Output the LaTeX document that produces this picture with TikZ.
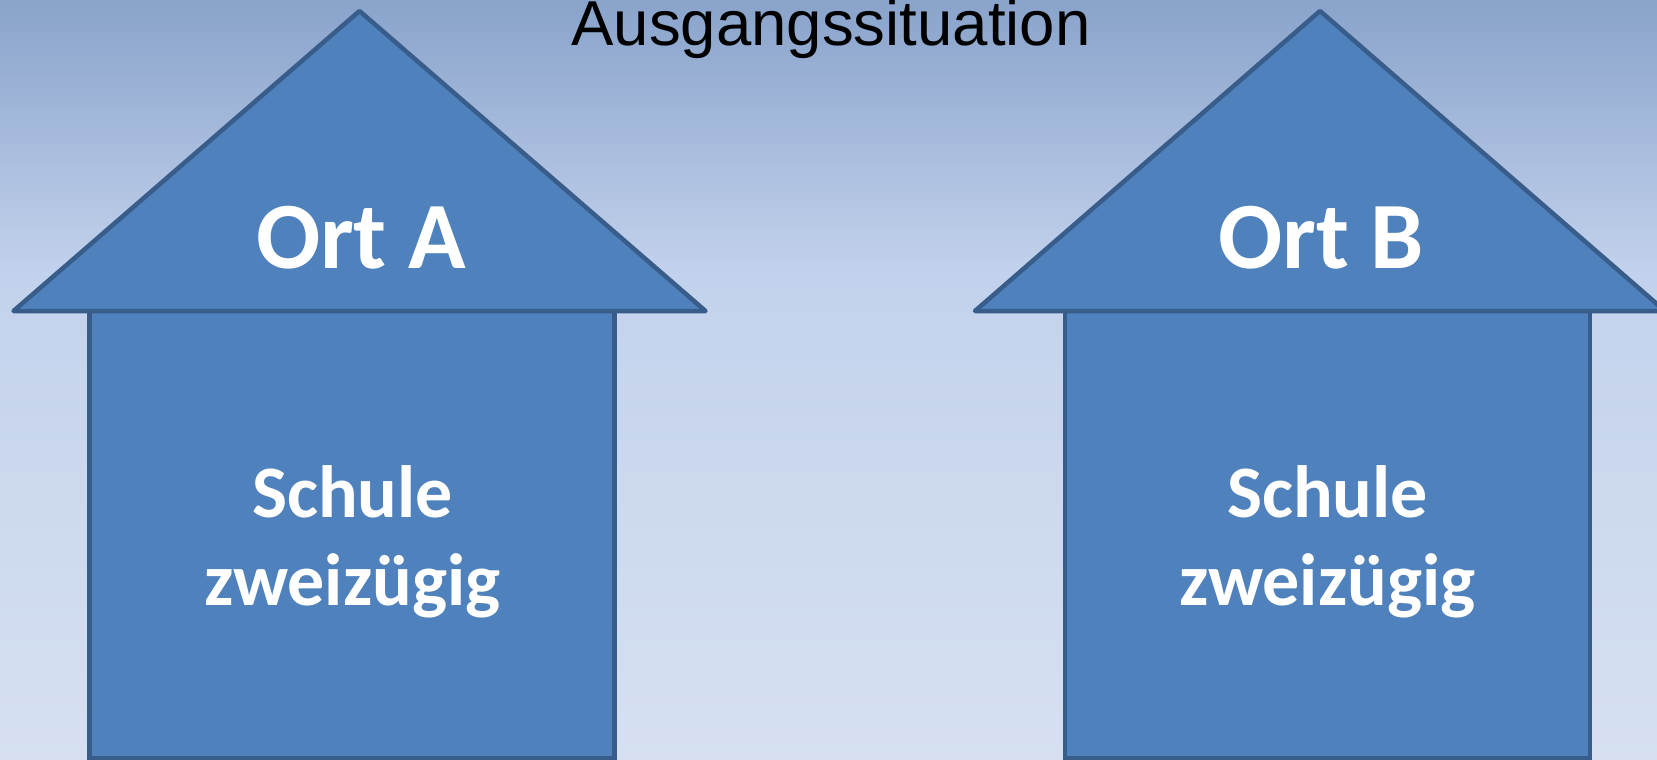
\documentclass[tikz,border=0pt]{standalone}
\usepackage{fontspec}
\setmainfont{Liberation Sans}
\newfontfamily\housefont{Carlito}
\usetikzlibrary{calc}
\definecolor{house_blue}{RGB}{79,129,189}
\definecolor{house_edge}{RGB}{56,93,138}
\definecolor{sky_top}{RGB}{137,163,203}
\definecolor{sky_mid}{RGB}{195,210,236}
\definecolor{sky_bottom}{RGB}{214,224,241}
\pgfdeclareverticalshading{sky}{100bp}{color(0bp)=(sky_bottom); color(25bp)=(sky_bottom);
  color(57bp)=(sky_mid); color(75bp)=(sky_top); color(100bp)=(sky_top)}
\tikzstyle{roof}=[fill=house_blue,draw=house_edge,line width=4.5pt,line join=round,line cap=round]
\tikzstyle{wall}=[fill=house_blue,draw=house_edge,line width=4.5pt]
\tikzstyle{place}=[text=white,font=\housefont\bfseries\fontsize{95}{100}\selectfont,
  inner sep=0pt,anchor=base]
\tikzstyle{school}=[text=white,font=\housefont\bfseries\fontsize{74}{88}\selectfont,
  inner sep=0pt,anchor=base]
\tikzstyle{title}=[text=black,font=\fontsize{63.5}{70}\selectfont,inner sep=0pt,anchor=base]
\tikzstyle{none}=[]

\begin{document}
\begin{tikzpicture}[x=1pt, y=-1pt]
		\shade [shading=sky] (0,0) rectangle (1657,760);
		\useasboundingbox (0,0) rectangle (1657,760);
		\coordinate (0) at (359.5, 11);
		\coordinate (1) at (13.5, 311);
		\coordinate (2) at (705.5, 311);
		\coordinate (3) at (89.5, 311);
		\coordinate (4) at (614.5, 758);
		\coordinate (5) at (1320, 11);
		\coordinate (6) at (975, 311);
		\coordinate (7) at (1665, 311);
		\coordinate (8) at (1065, 311);
		\coordinate (9) at (1590, 758);
		\draw [style=wall] (3) rectangle (4);
		\draw [style=wall] (8) rectangle (9);
		\draw [style=roof] (0) -- (2) -- (1) -- cycle;
		\draw [style=roof] (5) -- (7) -- (6) -- cycle;
		\node [style=title] (10) at (831, 46) {Ausgangssituation};
		\node [style=place] (11) at (361, 268) {Ort A};
		\node [style=place] (12) at (1321, 268) {Ort B};
		\node [style=school] (13) at (352.5, 517) {Schule};
		\node [style=school] (14) at (352.5, 605) {zweizügig};
		\node [style=school] (15) at (1327.5, 517) {Schule};
		\node [style=school] (16) at (1327.5, 605) {zweizügig};
\end{tikzpicture}
\end{document}
